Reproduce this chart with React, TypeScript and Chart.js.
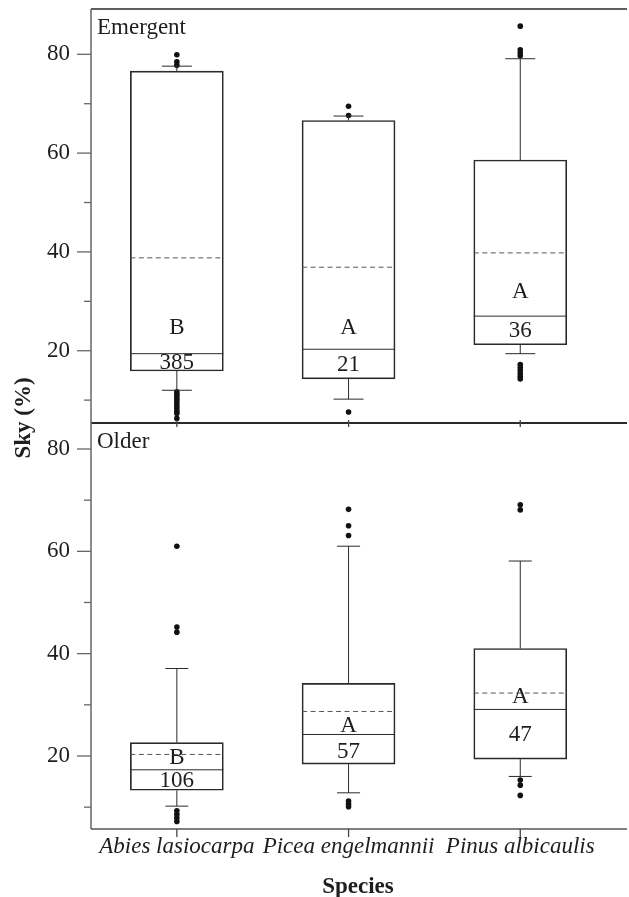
import { useEffect, useRef } from 'react';
import { Chart, registerables } from 'chart.js';

Chart.register(...registerables);

// ---------- data ----------
const species = ['Abies lasiocarpa', 'Picea engelmannii', 'Pinus albicaulis'];

const emergentQ1 = [15.9, 14.3, 21.2];
const emergentQ3 = [76.6, 66.6, 58.6];
const emergentMedian = [19.4, 20.3, 27.0];
const emergentMean = [38.8, 36.9, 39.8];
const emergentWhiskerLow = [12.0, 10.2, 19.4];
const emergentWhiskerHigh = [77.6, 67.5, 79.1];
const emergentOutliers = [
  [79.9, 78.5, 77.8, 11.7, 11.2, 10.7, 10.2, 9.7, 9.2, 8.7, 8.2, 7.7, 7.3, 6.3],
  [69.5, 67.6, 7.6],
  [85.7, 80.9, 80.3, 79.7, 17.2, 16.6, 16.0, 15.4, 14.8, 14.3],
];
const emergentLetters = ['B', 'A', 'A'];
const emergentN = [385, 21, 36];
const emergentLetterAt = [24.65, 24.65, 31.95];
const emergentNAt = [17.57, 17.1, 24.0];

const olderQ1 = [13.3, 18.4, 19.4];
const olderQ3 = [22.6, 34.2, 41.0];
const olderMedian = [17.3, 24.2, 29.1];
const olderMean = [20.3, 28.7, 32.3];
const olderWhiskerLow = [10.2, 12.8, 16.0];
const olderWhiskerHigh = [37.1, 61.0, 58.1];
const olderOutliers = [
  [61.0, 45.2, 44.2, 9.3, 8.6, 7.9, 7.2],
  [68.2, 65.0, 63.1, 11.2, 10.6, 10.1],
  [69.1, 68.1, 15.3, 14.3, 12.3],
];
const olderLetters = ['B', 'A', 'A'];
const olderN = [106, 57, 47];
const olderLetterAt = [19.55, 25.9, 31.6];
const olderNAt = [15.1, 20.7, 24.1];

const yMajorTicks = [20, 40, 60, 80];
const yMinorTicks = [10, 30, 50, 70];

const FONT = "'Liberation Serif', 'Times New Roman', serif";
const TEXT = '#1e1e1e';
const LINE = '#2a2a2a';
const BOX_W = 93;

export default function App() {
  const ref = useRef<HTMLCanvasElement>(null);

  useEffect(() => {
    const canvas = ref.current;
    if (!canvas) return;

    const panels = [
      {
        axis: 'yE', name: 'Emergent', q1: emergentQ1, q3: emergentQ3, median: emergentMedian,
        mean: emergentMean, lo: emergentWhiskerLow, hi: emergentWhiskerHigh, outliers: emergentOutliers,
        letters: emergentLetters, n: emergentN, letterAt: emergentLetterAt, nAt: emergentNAt, cap: 30,
      },
      {
        axis: 'yO', name: 'Older', q1: olderQ1, q3: olderQ3, median: olderMedian,
        mean: olderMean, lo: olderWhiskerLow, hi: olderWhiskerHigh, outliers: olderOutliers,
        letters: olderLetters, n: olderN, letterAt: olderLetterAt, nAt: olderNAt, cap: 23,
      },
    ];

    const datasets: any[] = [];
    panels.forEach((p) => {
      datasets.push({
        type: 'bar',
        data: species.map((_, i) => ({ x: i + 1, y: [p.q1[i], p.q3[i]] })),
        xAxisID: 'x',
        yAxisID: p.axis,
        backgroundColor: 'rgba(255,255,255,0)',
        borderColor: LINE,
        borderWidth: 1,
        borderSkipped: false,
        barThickness: BOX_W,
        grouped: false,
      });
      datasets.push({
        type: 'scatter',
        data: p.outliers.flatMap((arr, i) => arr.map((v) => ({ x: i + 1, y: v }))),
        xAxisID: 'x',
        yAxisID: p.axis,
        pointRadius: 2.8,
        pointBackgroundColor: '#111',
        pointBorderWidth: 0,
        showLine: false,
      });
    });

    const deco = {
      id: 'deco',
      afterDatasetsDraw(chart: any) {
        const { ctx, chartArea, scales } = chart;
        const xs = scales.x;
        const line = (x1: number, y1: number, x2: number, y2: number) => {
          ctx.beginPath();
          ctx.moveTo(x1, y1);
          ctx.lineTo(x2, y2);
          ctx.stroke();
        };
        ctx.save();
        panels.forEach((p) => {
          const ys = scales[p.axis];
          species.forEach((_, i) => {
            const cx = xs.getPixelForValue(i + 1);
            const h = BOX_W / 2;
            ctx.strokeStyle = LINE;
            ctx.lineWidth = 1;
            ctx.setLineDash([]);
            const ym = ys.getPixelForValue(p.median[i]);
            line(cx - h, ym, cx + h, ym);
            const yq1 = ys.getPixelForValue(p.q1[i]);
            const yq3 = ys.getPixelForValue(p.q3[i]);
            const yhi = ys.getPixelForValue(p.hi[i]);
            const ylo = ys.getPixelForValue(p.lo[i]);
            line(cx, yq3, cx, yhi);
            line(cx - p.cap / 2, yhi, cx + p.cap / 2, yhi);
            line(cx, yq1, cx, ylo);
            line(cx - p.cap / 2, ylo, cx + p.cap / 2, ylo);
            ctx.setLineDash([5, 3.5]);
            ctx.strokeStyle = '#555';
            const ymean = ys.getPixelForValue(p.mean[i]);
            line(cx - h, ymean, cx + h, ymean);
            ctx.setLineDash([]);
            ctx.fillStyle = TEXT;
            ctx.font = `23px ${FONT}`;
            ctx.textAlign = 'center';
            ctx.textBaseline = 'middle';
            ctx.fillText(p.letters[i], cx, ys.getPixelForValue(p.letterAt[i]));
            ctx.fillText(String(p.n[i]), cx, ys.getPixelForValue(p.nAt[i]));
          });
          // panel name
          ctx.fillStyle = TEXT;
          ctx.font = `23px ${FONT}`;
          ctx.textAlign = 'left';
          ctx.textBaseline = 'middle';
          ctx.fillText(p.name, chartArea.left + 6, ys.top + 19);
          // y ticks
          ctx.strokeStyle = '#666';
          ctx.lineWidth = 1.3;
          yMajorTicks.forEach((v) => {
            const y = ys.getPixelForValue(v);
            line(chartArea.left - 14, y, chartArea.left, y);
          });
          yMinorTicks.forEach((v) => {
            const y = ys.getPixelForValue(v);
            line(chartArea.left - 7, y, chartArea.left, y);
          });
          // frame top
          ctx.strokeStyle = LINE;
          ctx.lineWidth = p.axis === 'yE' ? 1.5 : 2;
          line(chartArea.left, ys.top, chartArea.right + 2, ys.top);
        });
        // left border
        ctx.strokeStyle = '#666';
        ctx.lineWidth = 1.5;
        line(chartArea.left, chartArea.top, chartArea.left, chartArea.bottom);
        // bottom border
        ctx.strokeStyle = '#555';
        ctx.lineWidth = 1.5;
        line(chartArea.left, chartArea.bottom, chartArea.right + 2, chartArea.bottom);
        // x ticks
        const mid = scales.yO.top;
        ctx.lineWidth = 1.3;
        ctx.strokeStyle = '#444';
        species.forEach((_, i) => {
          const cx = xs.getPixelForValue(i + 1);
          line(cx, mid - 3, cx, mid + 4);
          line(cx, chartArea.bottom, cx, chartArea.bottom + 8);
        });
        // y title
        ctx.save();
        ctx.translate(24, 418);
        ctx.rotate(-Math.PI / 2);
        ctx.fillStyle = TEXT;
        ctx.font = `bold 23px ${FONT}`;
        ctx.textAlign = 'center';
        ctx.textBaseline = 'middle';
        ctx.fillText('Sky (%)', 0, 0);
        ctx.restore();
        ctx.restore();
      },
    };

    const yScale = (min: number, max: number, weight: number) => ({
      type: 'linear',
      position: 'left',
      stack: 'panels',
      stackWeight: weight,
      min,
      max,
      grid: { display: false, drawTicks: false },
      border: { display: false },
      afterBuildTicks: (s: any) => {
        s.ticks = [...yMinorTicks, ...yMajorTicks].sort((a, b) => a - b).map((v) => ({ value: v }));
      },
      ticks: {
        autoSkip: false,
        padding: 21,
        color: TEXT,
        font: { family: FONT, size: 23 },
        callback: (v: number) => (yMajorTicks.includes(v) ? String(v) : ''),
      },
      afterFit: (s: any) => {
        s.width = 91;
        s.paddingTop = 0;
        s.paddingBottom = 0;
      },
    });

    const chart = new Chart(canvas, {
      type: 'bar',
      data: { datasets },
      options: {
        animation: false,
        responsive: false,
        devicePixelRatio: 1,
        layout: { padding: { top: 9, left: 0, right: 0, bottom: 0 } },
        plugins: { legend: { display: false }, tooltip: { enabled: false } },
        scales: {
          x: {
            type: 'linear',
            position: 'bottom',
            offset: false,
            min: 0.5,
            max: 3.61,
            grid: { display: false, drawTicks: false, offset: false },
            border: { display: false },
            afterBuildTicks: (s: any) => {
              s.ticks = species.map((_, i) => ({ value: i + 1 }));
            },
            ticks: {
              autoSkip: false,
              maxRotation: 0,
              padding: 4,
              color: TEXT,
              font: { family: FONT, size: 23, style: 'italic' },
              callback: (_v: any, i: number) => species[i],
            },
            title: {
              display: true,
              text: 'Species',
              color: TEXT,
              font: { family: FONT, size: 23, weight: 'bold', lineHeight: 0.9 },
              padding: { top: 0, bottom: 0 },
            },
            afterFit: (s: any) => {
              s.height = 68;
              s.paddingLeft = 0;
              s.paddingRight = 0;
            },
          },
          yO: yScale(5.73, 85.08, 406),
          yE: yScale(5.37, 89.17, 414),
        } as any,
      },
      plugins: [deco],
    } as any);

    return () => chart.destroy();
  }, []);

  return (
    <div style={{ position: 'absolute', left: 0, top: 0, width: 629, height: 897, background: '#fff' }}>
      <canvas ref={ref} width={629} height={897} style={{ width: 629, height: 897, display: 'block' }} />
    </div>
  );
}
